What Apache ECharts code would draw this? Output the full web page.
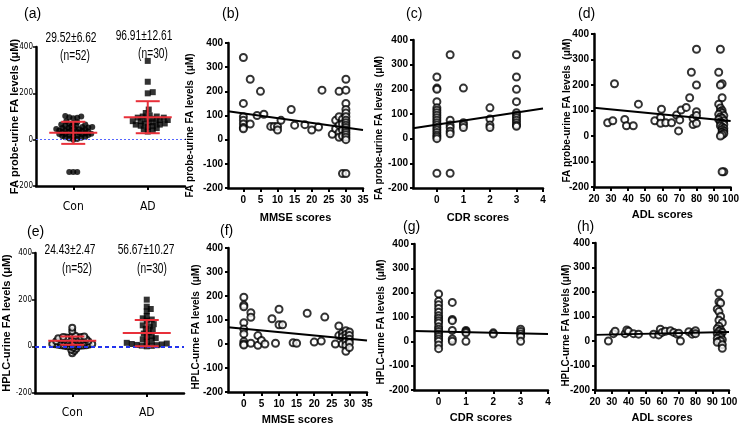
<!DOCTYPE html>
<html><head><meta charset="utf-8">
<script src="https://cdn.jsdelivr.net/npm/echarts@6/dist/echarts.min.js"></script>
<style>html,body{margin:0;padding:0;background:#fff}#c{width:742px;height:430px}</style>
</head><body><div id="c"></div>
<script>
// ---------------- DATA ----------------
const groupNames = ['Con', 'AD'];
const groupPos = [1, 2];
// (a) FA probe
const aConVals = [-140,-140,-140, 95,100,92,97,102,
  80,75,70,70,65,65,60,60,58,55,55,52,50,50,48,46,45,44,42,40,40,38,36,35,34,32,30,30,28,26,25,24,22,20,20,18,16,15,12,10,8,5,3,0];
const aAdVals = [340,250,205,200,130,115,105,100,100,95,95,90,90,85,85,80,80,75,75,70,70,65,65,60,60,55,50,45,40,35];
const aMeans = [29.52, 96.91];
const aSDs = [47.7, 69.1];
const aMeanText = ['29.52±6.62', '96.91±12.61'];
const aNText = ['(n=52)', '(n=30)'];
// (e) HPLC
const eConVals = [45,45,42,40,40,38,38,35,35,33,32,30,30,28,28,26,25,25,24,22,22,20,20,18,18,16,15,15,14,12,
  12,10,10,9,8,7,6,5,5,4,3,2,1,0,0,-5,-10,-15,80,65,-20,-30];
const eAdVals = [200,170,160,150,130,120,115,110,95,90,85,75,70,60,55,45,40,35,30,25,20,15,12,10,8,6,5,3,2,0];
const eMeans = [24.43, 56.67];
const eSDs = [17.8, 56.3];
const eMeanText = ['24.43±2.47', '56.67±10.27'];
const eNText = ['(n=52)', '(n=30)'];
// tick values
const mmseTicks = [0,5,10,15,20,25,30,35];
const cdrTicks = [0,1,2,3,4];
const adlTicks = [20,30,40,50,60,70,80,90,100];
// (b) MMSE vs FA probe
const bX = [0,0,0,0,0,0,0, 2,2, 4,5,6, 8,9,10,10,11, 14,15,18,20,22,23,
  26,27,27,28,28,28,28,28,29,29,29,29, 30,30,30,30,30,30,30,30,30,30,30,30,30,30,30, 29,30];
const bY = [340,150,95,80,65,50,45, 250,65, 100,200,105, 55,55,55,40,80, 125,60,62,40,52,205,
  22,80,45,200,95,60,30,10,85,65,40,15, 250,205,150,125,110,95,80,70,60,50,40,30,20,10,0, -140,-140];
const bFit = [[-4.5, 118], [35, 40]];
// (c) CDR vs FA probe
const cX = [0,0,0,0,0,0,0,0,0,0,0,0,0,0,0,0,0,0,0, 0.5,0.5,0.5,0.5,0.5,0.5,0.5, 1,1,1,1, 2,2,2,2, 3,3,3,3,3,3,3,3,3,3,3];
const cY = [250,205,200,150,125,115,105,95,85,75,65,55,45,35,25,15,8,0,-140, 340,75,55,45,30,20,-140, 205,65,55,45, 125,80,55,45, 340,250,200,150,105,95,85,75,65,55,50];
const cFit = [[-0.9, 42], [4, 122]];
// (d) ADL vs FA probe
const dX = [28,31,32,38,39,43,46, 55.6,59,59.5,59,62,65.4,68.3,69.5,70.2,71,74, 76,77,78,78,80,80,80,80,80,
  94,93,95,94,95,93,94,95,94,95,93,96,94,95,93,96,94,95,96,94,95,96,95,96,95,96,95,94,96,95];
const dY = [52,60,205,65,40,40,125, 60,73,105,50,52,52,82,20,63,102,112, 150,250,45,70,340,200,95,80,50,
  340,250,205,200,150,125,110,100,95,90,85,80,75,70,65,60,55,50,45,40,35,30,25,20,15,10,5,0,-140,-140];
const dFit = [[20, 111], [100, 59]];
// (f) MMSE vs HPLC
const fX = [0,0,0,0,0,0,0,0,0, 2,2,2, 4,4,5,6,8,9,10,10,11,14,15,18,20,22,23,26,
  27,27,28,28,28,29,29,29,29,29,29,30,30,30,30,30];
const fY = [195,162,155,89,62,42,10,0,-4, 130,111,3, 35,-5,15,0,105,3,145,80,80,5,3,128,8,12,112,0,
  75,35,45,30,0,55,40,25,10,-5,-30,50,35,20,5,-15];
const fFit = [[-4.5, 70], [35, 15]];
// (g) CDR vs HPLC
const gX = [0,0,0,0,0,0,0,0,0,0,0,0,0,0,0,0,0,0, 0.5,0.5,0.5,0.5,0.5,0.5, 1,1,1,1, 2,2, 3,3,3,3,3];
const gY = [195,165,150,135,120,105,95,85,75,60,50,40,30,20,10,0,-15,-30, 160,90,85,45,10,0, 45,40,35,0, 35,30, 50,40,30,20,0];
const gFit = [[-0.9, 42], [4, 30]];
// (h) ADL vs HPLC
const hX = [28,31,32,38,39,40,43,46,55,58,59,60,62,65,67,69,70,71,76,78,79,80,80,
  94,94,95,93,94,95,94,96,94,93,95,94,96,93,95,94,95,93,96,94,95,93,96,96];
const hY = [0,30,40,30,45,40,30,28,28,25,48,35,40,42,35,28,32,0,38,28,35,42,30,
  195,160,155,130,120,100,85,75,60,50,45,40,35,30,25,20,15,10,5,0,0,-5,-15,-30];
const hFit = [[20, 25], [100, 37]];

// ---------------- LAYOUT ----------------
const grids = [
  {left: 36,  top: 47,  width: 149, height: 139}, // a
  {left: 228, top: 43,  width: 135, height: 145}, // b
  {left: 413, top: 40,  width: 130, height: 148}, // c
  {left: 594, top: 34,  width: 137, height: 153}, // d
  {left: 35,  top: 253, width: 149, height: 140}, // e
  {left: 228, top: 248, width: 139, height: 144}, // f
  {left: 414, top: 244, width: 134, height: 146}, // g
  {left: 595, top: 243, width: 134, height: 147}  // h
];
const BOLD = {fontFamily: 'Liberation Sans, Arial, sans-serif', fontWeight: 'bold', color: '#000'};
const NARROW = '"DejaVu Sans Condensed", "Liberation Sans Narrow", "Liberation Sans", sans-serif';
const RED = '#e8303a';

function zip(xs, ys) { return xs.map((x, i) => [x, ys[i]]); }

function swarm(vals, center, pxPerX, pxPerY, dist) {
  const sorted = vals.slice().sort((p, q) => p - q);
  const placed = [], out = [];
  for (const v of sorted) {
    const y = v * pxPerY;
    let best = 0;
    for (let k = 0; k < 400; k++) {
      const off = (k % 2 ? 1 : -1) * Math.ceil(k / 2);
      let ok = true;
      for (const p of placed) {
        const dx = p.x - off, dy = p.y - y;
        if (dx * dx + dy * dy < dist * dist) { ok = false; break; }
      }
      if (ok) { best = off; break; }
    }
    placed.push({x: best, y: y});
    out.push([center + best / pxPerX, v]);
  }
  return out;
}

function xAxisCat(gi, margin) {
  return {
    gridIndex: gi, type: 'value', min: 0.5, max: 2.5,
    axisLine: {onZero: false, lineStyle: {color: '#000', width: 2.5}},
    axisTick: {customValues: groupPos, length: 4, lineStyle: {color: '#000', width: 2}},
    axisLabel: {customValues: groupPos, formatter: v => groupNames[Math.round(v) - 1], margin: margin,
      fontFamily: NARROW, fontSize: 12, color: '#000'},
    splitLine: {show: false}
  };
}
function yAxisCat(gi, name, gap, fs) {
  return {
    gridIndex: gi, type: 'value', min: -200, max: 400, interval: 200,
    name: name, nameLocation: 'middle', nameGap: gap, nameMoveOverlap: false,
    nameTextStyle: Object.assign({}, BOLD, {fontSize: fs}),
    axisLine: {onZero: false, lineStyle: {color: '#000', width: 2.5}},
    axisTick: {length: 3, lineStyle: {color: '#000', width: 1.5}},
    axisLabel: {margin: 3, fontFamily: NARROW, fontSize: 8, color: '#000'},
    splitLine: {show: false}
  };
}
function xAxisSc(gi, min, max, ticks, name, gap) {
  return {
    gridIndex: gi, type: 'value', min: min, max: max,
    name: name, nameLocation: 'middle', nameGap: gap, nameMoveOverlap: false,
    nameTextStyle: Object.assign({}, BOLD, {fontSize: 11}),
    axisLine: {onZero: false, lineStyle: {color: '#000', width: 2.5}},
    axisTick: {customValues: ticks, length: 4, lineStyle: {color: '#000', width: 2}},
    axisLabel: Object.assign({customValues: ticks, margin: 7, fontSize: 10}, BOLD),
    splitLine: {show: false}
  };
}
function yAxisSc(gi, name, gap, shift) {
  return {
    gridIndex: gi, type: 'value', min: -200, max: 400, interval: 100,
    name: name, nameLocation: 'middle', nameGap: gap, nameMoveOverlap: false,
    nameTextStyle: Object.assign({}, BOLD, {fontSize: 10, padding: [0, 2 * shift, 0, 0]}),
    axisLine: {onZero: false, lineStyle: {color: '#000', width: 2.5}},
    axisTick: {length: 3, lineStyle: {color: '#000', width: 2}},
    axisLabel: Object.assign({margin: 5, fontSize: 10}, BOLD),
    splitLine: {show: false}
  };
}

const openCircle = {symbol: 'circle', symbolSize: 7,
  itemStyle: {color: '#fff', borderColor: '#000', borderWidth: 2}};

function scatterSeries(gi, data) {
  return Object.assign({type: 'scatter', xAxisIndex: gi, yAxisIndex: gi, data: data, z: 3, silent: true}, openCircle);
}
function fitSeries(gi, data) {
  return {type: 'line', xAxisIndex: gi, yAxisIndex: gi, data: data, symbol: 'none', silent: true, z: 4,
    lineStyle: {color: '#000', width: 2}};
}
function errSeries(gi, means, sds) {
  return {
    type: 'custom', xAxisIndex: gi, yAxisIndex: gi, z: 5, silent: true,
    data: groupPos.map((p, i) => [p, means[i], sds[i]]),
    renderItem: function (params, api) {
      const x = api.value(0), m = api.value(1), s = api.value(2);
      const c = api.coord([x, m]), t = api.coord([x, m + s]), b = api.coord([x, m - s]);
      const st = {stroke: RED, lineWidth: 2};
      const half = 24, cap = 12;
      return {type: 'group', children: [
        {type: 'line', shape: {x1: c[0] - half, y1: c[1], x2: c[0] + half, y2: c[1]}, style: st},
        {type: 'line', shape: {x1: c[0], y1: t[1], x2: c[0], y2: b[1]}, style: st},
        {type: 'line', shape: {x1: c[0] - cap, y1: t[1], x2: c[0] + cap, y2: t[1]}, style: st},
        {type: 'line', shape: {x1: c[0] - cap, y1: b[1], x2: c[0] + cap, y2: b[1]}, style: st}
      ]};
    }
  };
}

// swarm layouts for (a) and (e)
const aPxX = grids[0].width / 2, aPxY = grids[0].height / 600;
const ePxX = grids[4].width / 2, ePxY = grids[4].height / 600;
const aCon = swarm(aConVals, 1, aPxX, aPxY, 3.3);
const aAd = swarm(aAdVals, 2, aPxX, aPxY, 4.2);
const eCon = swarm(eConVals, 1, ePxX, ePxY, 2.7);
const eAd = swarm(eAdVals, 2, ePxX, ePxY, 4.4);

const ttl = 'FA probe-urine FA levels  (μM)';
const option = {
  animation: false,
  backgroundColor: '#fff',
  grid: grids.map(g => Object.assign({containLabel: false}, g)),
  xAxis: [
    xAxisCat(0, 15),
    xAxisSc(1, -4.5, 35, mmseTicks, 'MMSE scores', 24),
    xAxisSc(2, -0.9, 4, cdrTicks, 'CDR scores', 24),
    xAxisSc(3, 20, 100, adlTicks, 'ADL scores', 22),
    xAxisCat(4, 14),
    xAxisSc(5, -4.5, 35, mmseTicks, 'MMSE scores', 22),
    xAxisSc(6, -0.9, 4, cdrTicks, 'CDR scores', 22),
    xAxisSc(7, 20, 100, adlTicks, 'ADL scores', 22)
  ],
  yAxis: [
    yAxisCat(0, 'FA probe-urine FA levels (μM)', 16, 11),
    yAxisSc(1, ttl, 33, 10),
    yAxisSc(2, ttl, 29, 14),
    yAxisSc(3, ttl, 22, 0),
    yAxisCat(4, 'HPLC-urine FA levels (μM)', 23, 11),
    yAxisSc(5, 'HPLC-urne FA levels  (μM)', 27, 7),
    yAxisSc(6, 'HPLC-urne FA levels  (μM)', 28, 5),
    yAxisSc(7, 'HPLC-urne FA levels (μM)', 24, 9)
  ],
  series: [
    {type: 'scatter', xAxisIndex: 0, yAxisIndex: 0, data: aCon, symbol: 'circle', symbolSize: 6, silent: true,
      itemStyle: {color: '#000'},
      markLine: {silent: true, symbol: 'none', label: {show: false},
        lineStyle: {color: '#5566ff', width: 1, type: [2, 2]}, data: [{yAxis: 0}]}},
    {type: 'scatter', xAxisIndex: 0, yAxisIndex: 0, data: aAd, symbol: 'rect', symbolSize: 6, silent: true,
      itemStyle: {color: '#000'}},
    errSeries(0, aMeans, aSDs),
    scatterSeries(1, zip(bX, bY)), fitSeries(1, bFit),
    scatterSeries(2, zip(cX, cY)), fitSeries(2, cFit),
    scatterSeries(3, zip(dX, dY)), fitSeries(3, dFit),
    {type: 'scatter', xAxisIndex: 4, yAxisIndex: 4, data: eCon, symbol: 'circle', symbolSize: 6, silent: true,
      itemStyle: {color: '#fff', borderColor: '#000', borderWidth: 2},
      markLine: {silent: true, symbol: 'none', label: {show: false},
        lineStyle: {color: '#2233ee', width: 2, type: [4, 3]}, data: [{yAxis: 0}]}},
    {type: 'scatter', xAxisIndex: 4, yAxisIndex: 4, data: eAd, symbol: 'rect', symbolSize: 6, silent: true,
      itemStyle: {color: '#000'}},
    errSeries(4, eMeans, eSDs),
    scatterSeries(5, zip(fX, fY)), fitSeries(5, fFit),
    scatterSeries(6, zip(gX, gY)), fitSeries(6, gFit),
    scatterSeries(7, zip(hX, hY)), fitSeries(7, hFit)
  ],
  graphic: []
};

const panelLabels = [['(a)', 24, 15], ['(b)', 222, 15], ['(c)', 406, 15], ['(d)', 578, 15],
  ['(e)', 27, 233], ['(f)', 220, 232], ['(g)', 403, 228], ['(h)', 577, 228]];
panelLabels.forEach(p => option.graphic.push({type: 'text', left: p[1], top: p[2] - 8,
  style: {text: p[0], font: '14px "Liberation Sans", Arial, sans-serif', fill: '#000'}}));

function annot(txt, cx, cy) {
  option.graphic.push({type: 'text', x: cx, y: cy, scaleX: 0.68,
    style: {text: txt, font: '15px "Liberation Sans", Arial, sans-serif', fill: '#000', textAlign: 'center', textVerticalAlign: 'middle'}});
}
annot(aMeanText[0], 71, 38); annot(aNText[0], 75, 56);
annot(aMeanText[1], 144, 36); annot(aNText[1], 153, 54);
annot(eMeanText[0], 70, 250); annot(eNText[0], 77, 269);
annot(eMeanText[1], 146, 250); annot(eNText[1], 152, 269);

const chart = echarts.init(document.getElementById('c'), null, {renderer: 'canvas'});
chart.setOption(option);
</script></body></html>
